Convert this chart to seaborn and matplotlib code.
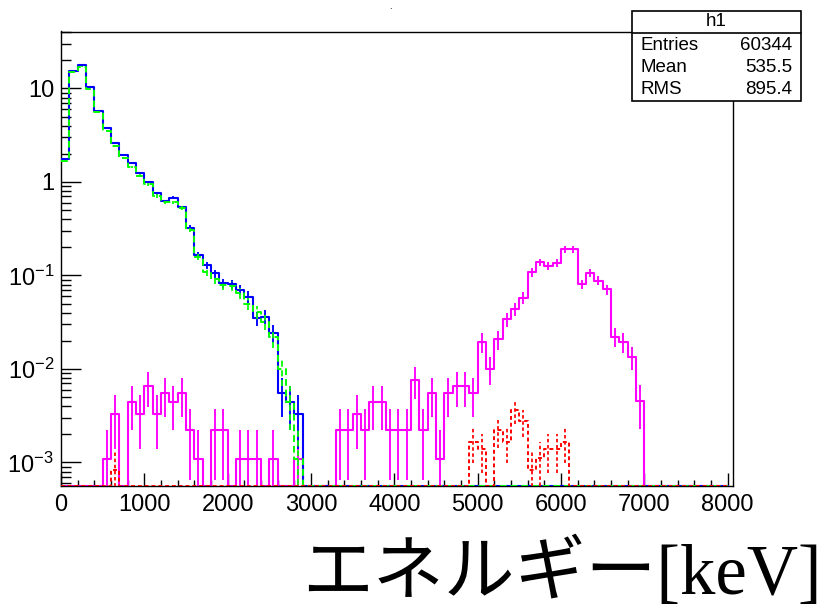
import numpy as np
import matplotlib
matplotlib.use("Agg")
import matplotlib.pyplot as plt
import seaborn as sns
from matplotlib.patches import Rectangle
from matplotlib.lines import Line2D
from matplotlib.ticker import FixedLocator, FixedFormatter, MultipleLocator, LogLocator, NullFormatter

# ---------------------------------------------------------------- data
BIN_WIDTH = 100          # keV
N_BINS = 80              # 0 .. 8000 keV

# total spectrum (h1) and its companion, bins 0-2900 keV
blue_vals = [1.76, 15.4, 18.0, 10.5, 5.8, 3.75, 2.6, 1.94, 1.61, 1.24,
             1.0, 0.757, 0.62, 0.68, 0.536, 0.325, 0.166, 0.129, 0.105, 0.0826,
             0.0805, 0.070, 0.0594, 0.0349, 0.0363, 0.0241, 0.0055, 0.0044, 0.0033]
green_vals = [1.69, 15.0, 17.1, 9.8, 5.6, 3.5, 2.45, 1.79, 1.46, 1.17,
              0.945, 0.71, 0.606, 0.606, 0.523, 0.307, 0.159, 0.110, 0.091, 0.079,
              0.078, 0.0646, 0.050, 0.041, 0.032, 0.0218, 0.0099, 0.0044, 0.0011]

magenta_vals = [0, 0, 0, 0, 0, 0.0011, 0.0033, 0, 0.0044, 0.0033,
                0.0066, 0.0033, 0.0055, 0.0044, 0.0055, 0.0022, 0.0011, 0, 0.0022, 0.0022,
                0, 0.0011, 0.0011, 0.0011, 0, 0.0011, 0, 0, 0.0011, 0,
                0, 0, 0, 0.0022, 0.0022, 0.0033, 0.0022, 0.0044, 0.0044, 0.0022,
                0.0022, 0.0022, 0.0077, 0.0022, 0.0055, 0.0011, 0.0055, 0.0066, 0.0066, 0.0055,
                0.0196, 0.0100, 0.0209, 0.034, 0.0438, 0.058, 0.108, 0.139, 0.126, 0.137,
                0.19, 0.19, 0.081, 0.107, 0.088, 0.071, 0.0222, 0.0196, 0.0135, 0.0045,
                0, 0, 0, 0, 0, 0, 0, 0, 0, 0]

red_vals = [0, 0, 0, 0, 0, 0, 0.00083, 0, 0, 0,
            0, 0, 0, 0, 0, 0, 0, 0, 0, 0,
            0, 0, 0, 0, 0, 0, 0, 0, 0, 0,
            0, 0, 0, 0, 0, 0, 0, 0, 0, 0,
            0, 0, 0, 0, 0, 0, 0, 0, 0, 0.00166,
            0.00139, 0, 0.00222, 0.00166, 0.0036, 0.00277, 0.00083, 0.00111, 0.00139, 0.00139,
            0.00166, 0, 0, 0, 0, 0, 0, 0, 0, 0,
            0, 0, 0, 0, 0, 0, 0, 0, 0, 0]

# weight carried by a single entry in each histogram
entry_weight = {"blue": 0.0011, "green": 0.0011, "magenta": 0.0011, "red": 0.000277}

x_ticks = [0, 1000, 2000, 3000, 4000, 5000, 6000, 7000, 8000]
x_tick_labels = ["0", "1000", "2000", "3000", "4000", "5000", "6000", "7000", "8000"]
y_ticks = [1e-3, 1e-2, 1e-1, 1, 10]
y_tick_labels = [r"$\mathregular{10^{-3}}$", r"$\mathregular{10^{-2}}$",
                 r"$\mathregular{10^{-1}}$", "1", "10"]

stats_title = "h1"
stats_rows = [("Entries", "60344"), ("Mean", "535.5"), ("RMS", "895.4")]
x_title = "エネルギー[keV]"

# ---------------------------------------------------------------- style
sns.set_theme(style="white")
plt.rcParams["font.family"] = ["Liberation Sans", "DejaVu Sans"]
plt.rcParams["mathtext.fontset"] = "custom"
plt.rcParams["mathtext.rm"] = "Liberation Sans"
plt.rcParams["text.color"] = "black"
plt.rcParams["xtick.color"] = "black"
plt.rcParams["ytick.color"] = "black"

W, H = 825, 609
fig = plt.figure(figsize=(W / 100, H / 100), dpi=100)
ax = fig.add_axes([61 / W, 1 - 486 / H, (733 - 61) / W, (486 - 31.5) / H])

Y_MIN, Y_MAX = 5.6e-4, 40.7
ax.set_yscale("log")
ax.set_xlim(0, 8065)
ax.set_ylim(Y_MIN, Y_MAX)

edges = np.arange(N_BINS + 1) * BIN_WIDTH
centers = edges[:-1] + BIN_WIDTH / 2


def full(vals):
    v = np.zeros(N_BINS)
    v[:len(vals)] = vals
    return v


def draw_hist(vals, color, weight, dashes=None, lw=1.5, z=2):
    v = full(vals)
    # empty bins sit on the lower frame edge, like the ROOT drawing
    y = np.where(v > 0, v, Y_MIN)
    y = np.append(y, y[-1])
    kw = dict(color=color, lw=lw, zorder=z, drawstyle="steps-post")
    line = sns.lineplot(x=edges, y=y, ax=ax, estimator=None, sort=False, **kw)
    if dashes is not None:
        line.lines[-1].set_dashes(dashes)
    # statistical error bars: sqrt(sum w^2) = sqrt(value * w)
    nz = v > 0
    err = np.sqrt(v[nz] * weight)
    lower = np.minimum(err, v[nz] - 1e-9)
    eb = ax.errorbar(centers[nz], v[nz], yerr=[lower, err], fmt="none",
                     ecolor=color, elinewidth=lw * 0.9, capsize=0, zorder=z)
    if dashes is not None:
        for c in eb.lines[2]:
            c.set_linestyle((0, dashes))


draw_hist(magenta_vals, "#ff00ff", entry_weight["magenta"], z=2)
draw_hist(blue_vals, "#0000ff", entry_weight["blue"], z=3)
draw_hist(green_vals, "#00ff00", entry_weight["green"], dashes=(3.5, 2), lw=1.4, z=4)
draw_hist(red_vals, "#ff0000", entry_weight["red"], dashes=(2, 1.5), lw=1.4, z=5)

# ---------------------------------------------------------------- axes
for s in ax.spines.values():
    s.set_visible(True)
    s.set_color("black")
    s.set_linewidth(1.0)

ax.xaxis.set_major_locator(FixedLocator(x_ticks))
ax.xaxis.set_major_formatter(FixedFormatter(x_tick_labels))
ax.xaxis.set_minor_locator(MultipleLocator(200))
ax.yaxis.set_major_locator(FixedLocator(y_ticks))
ax.yaxis.set_major_formatter(FixedFormatter(y_tick_labels))
ax.yaxis.set_minor_locator(LogLocator(base=10, subs=np.arange(2, 10)))
ax.yaxis.set_minor_formatter(NullFormatter())

ax.tick_params(axis="x", which="major", direction="in", length=9.5, width=1.0,
               labelsize=17, pad=6, bottom=True, top=False, colors="black")
ax.tick_params(axis="x", which="minor", direction="in", length=4.5, width=1.0,
               bottom=True, top=False)
ax.tick_params(axis="y", which="major", direction="in", length=14.5, width=1.0,
               labelsize=17, pad=5, left=True, right=False, colors="black")
ax.tick_params(axis="y", which="minor", direction="in", length=7.2, width=1.0,
               left=True, right=False)
ax.set_xlabel("")
ax.set_ylabel("")

# ---------------------------------------------------------------- stats box
bx0, bx1, by0, by1, bdiv = 631.7, 800.7, 10.7, 101.3, 33.3
fig.patches.append(Rectangle((bx0 / W, 1 - by1 / H), (bx1 - bx0) / W, (by1 - by0) / H,
                             transform=fig.transFigure, facecolor="white",
                             edgecolor="black", lw=1.2, zorder=10))
fig.lines.append(Line2D([bx0 / W, bx1 / W], [1 - bdiv / H, 1 - bdiv / H],
                        transform=fig.transFigure, color="black", lw=1.2, zorder=11))
fig.text((bx0 + bx1) / 2 / W, 1 - 22 / H, stats_title, ha="center", va="center",
         fontsize=13.5, color="black", zorder=12)
for i, (name, val) in enumerate(stats_rows):
    yy = 1 - (45 + 22.5 * i) / H
    fig.text(640 / W, yy, name, ha="left", va="center", fontsize=13.5,
             color="black", zorder=12)
    fig.text(792 / W, yy, val, ha="right", va="center", fontsize=13.5,
             color="black", zorder=12)

# empty histogram title leaves only a dot
fig.text(390 / W, 1 - 1 / H, ".", ha="center", va="top", fontsize=7,
         color="black")

# ---------------------------------------------------------------- axis title
fig.text(822 / W, 1 - 594 / H, x_title, ha="right", va="baseline", fontsize=51,
         color="black", family=["Liberation Serif", "Noto Sans CJK JP"])

fig.savefig("out.png", dpi=100, facecolor="white")
